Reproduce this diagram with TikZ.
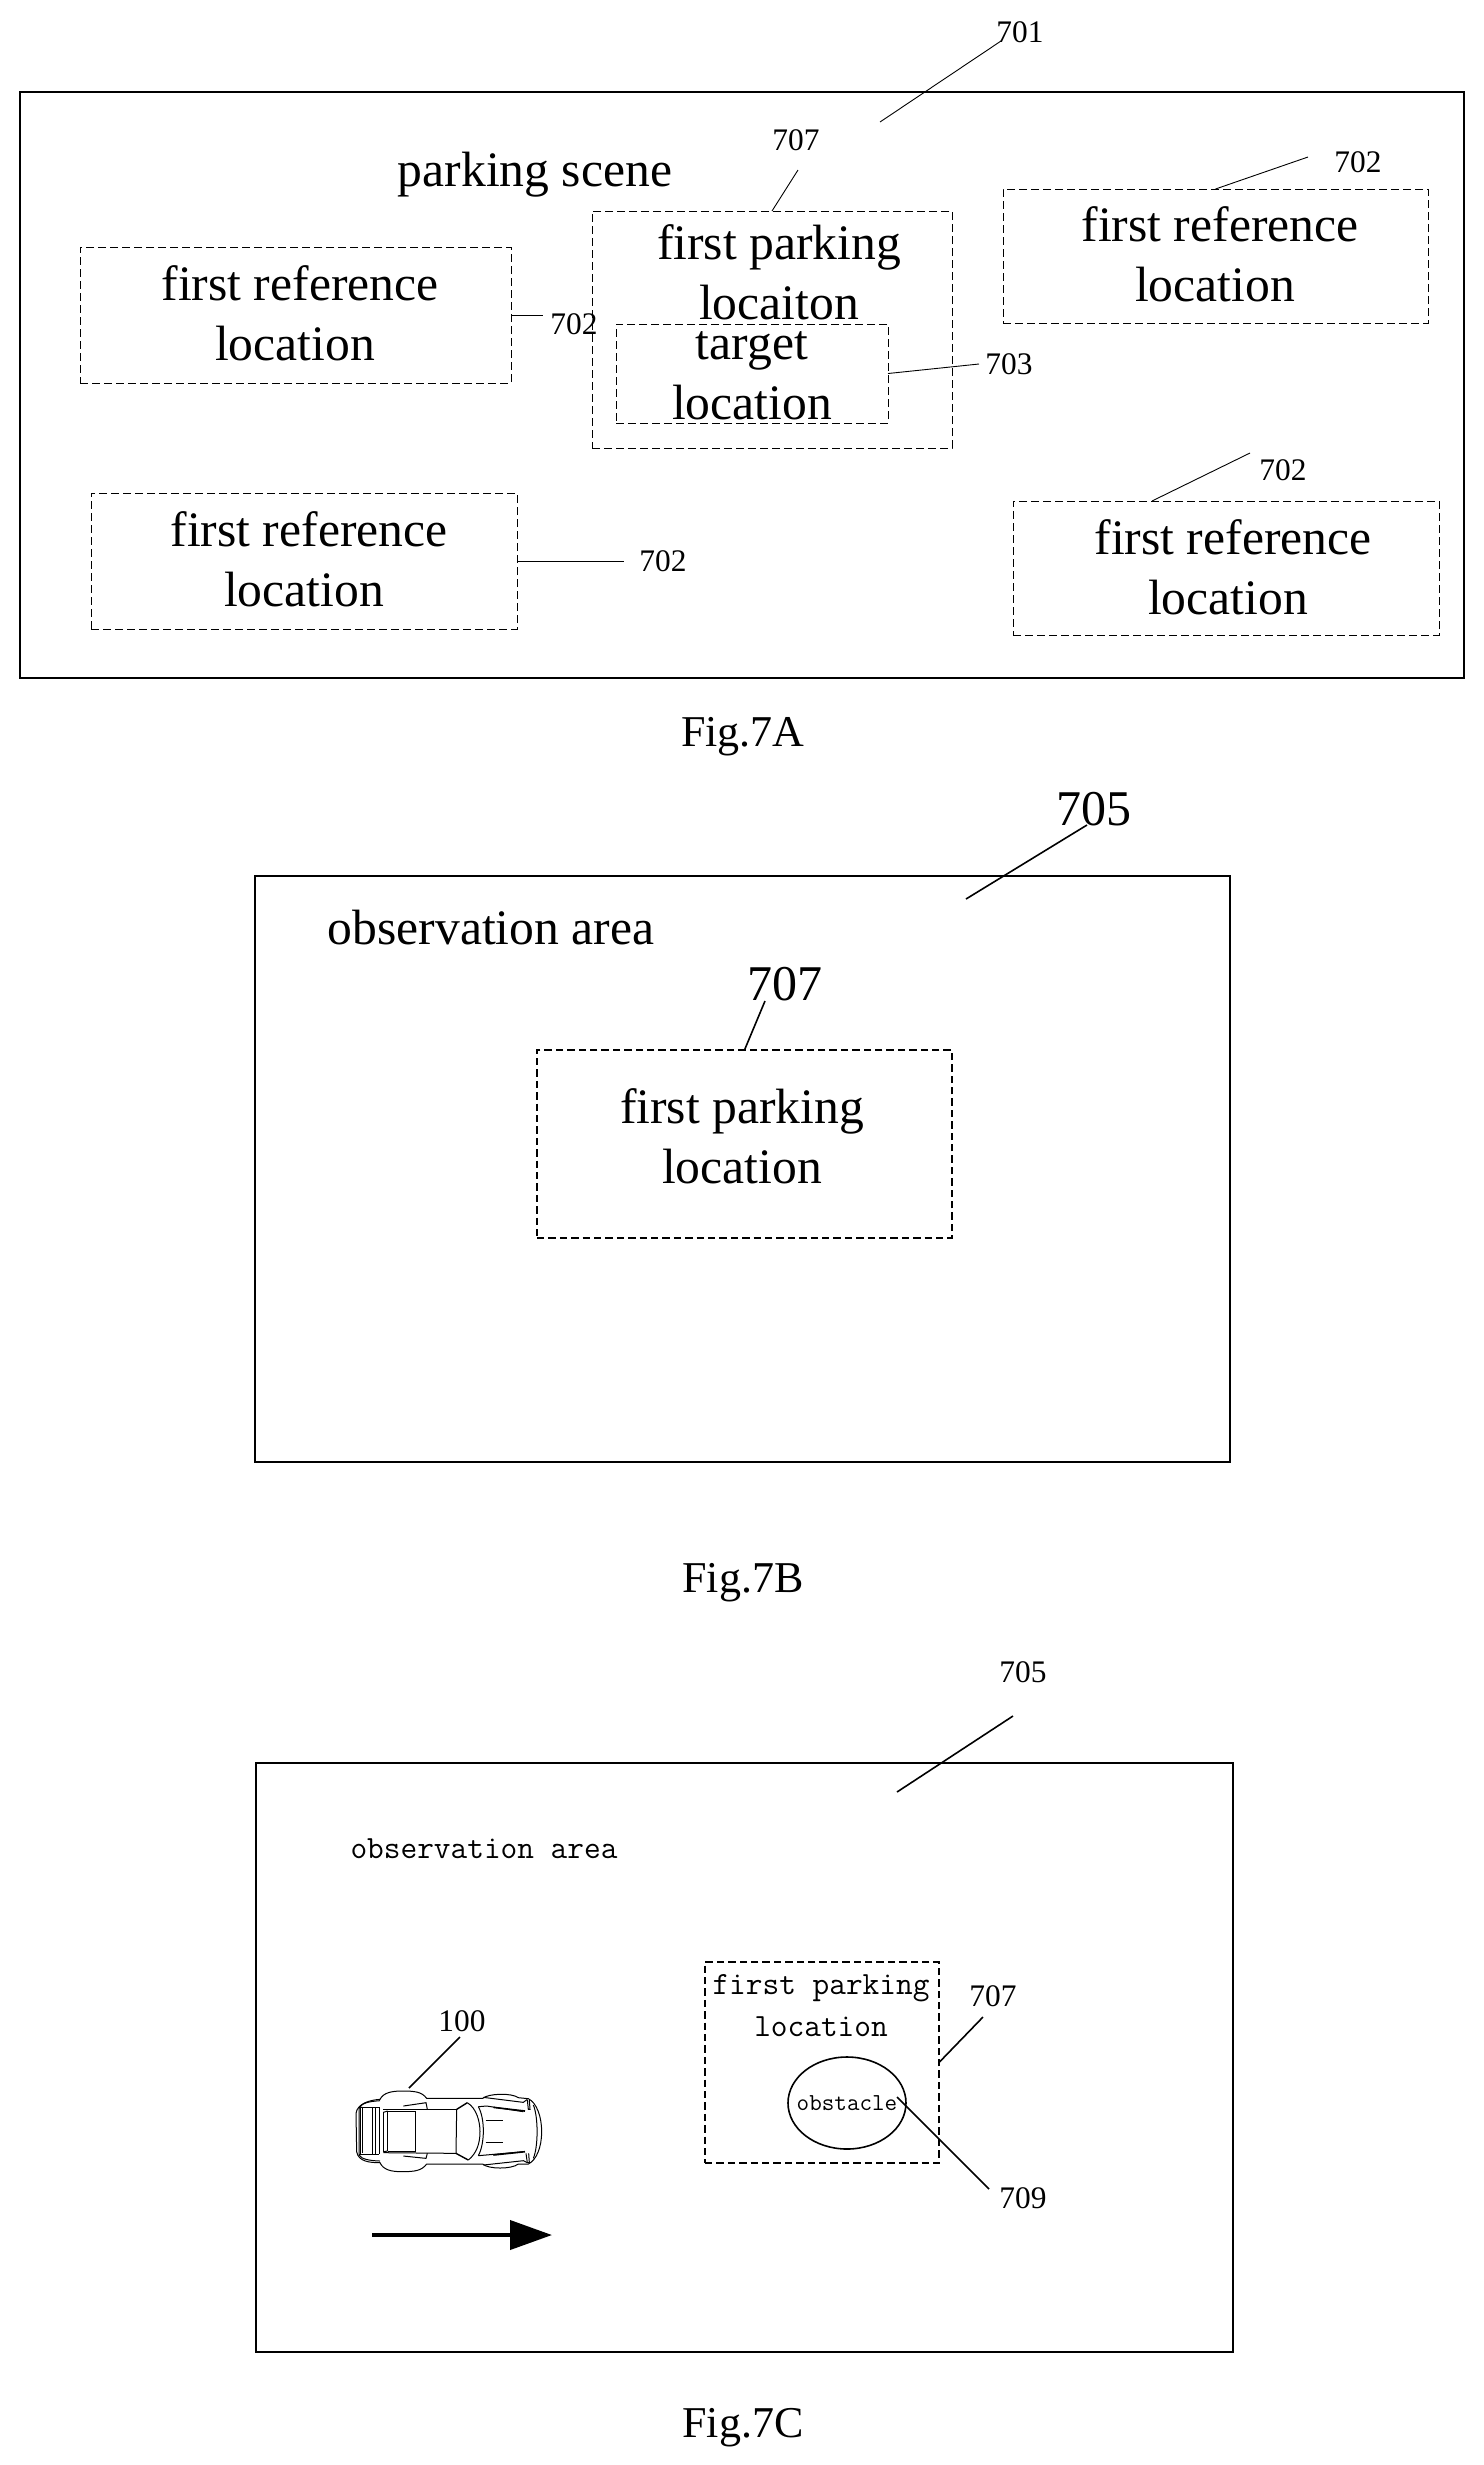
\documentclass[tikz,border=0pt]{standalone}
\usepackage{fontspec}
\setmainfont{Liberation Serif}
\usetikzlibrary{arrows.meta,shapes.geometric}
\tikzset{
  lblS/.style={inner sep=0pt,font=\fontsize{15.7}{18}\selectfont},
  lblL/.style={inner sep=0pt,font=\fontsize{25}{30}\selectfont},
  txt/.style={inner sep=0pt,align=center,font=\fontsize{24.8}{30}\selectfont},
  monotxt/.style={inner sep=0pt,align=center,font=\fontsize{16.2}{21}\selectfont\ttfamily},
  figcap/.style={inner sep=0pt,font=\fontsize{22}{26}\selectfont},
  panelA/.style={draw,line width=0.6pt,inner sep=0pt,outer sep=0pt},
  panelB/.style={draw,line width=0.85pt,inner sep=0pt,outer sep=0pt},
  panelC/.style={draw,line width=1pt,inner sep=0pt,outer sep=0pt},
  dashA/.style={draw,line width=0.5pt,dash pattern=on 4pt off 2pt,inner sep=0pt,outer sep=0pt},
  dashB/.style={draw,line width=0.8pt,dash pattern=on 3.7pt off 2pt,inner sep=0pt,outer sep=0pt},
  leadA/.style={line width=0.45pt},
  leadB/.style={line width=0.8pt},
  carline/.style={line width=0.5pt},
  cararrow/.style={line width=2pt,-{Triangle[length=21pt,width=14.5pt]}}
}
\newcommand{\bx}[6]{%
  \pgfmathsetmacro{\cxx}{(#3+#5)/2}\pgfmathsetmacro{\cyy}{(#4+#6)/2}%
  \pgfmathsetmacro{\wdd}{(#5-#3)*0.5}\pgfmathsetmacro{\htt}{(#6-#4)*0.5}%
  \node[#1,minimum width=\wdd pt,minimum height=\htt pt] (#2) at (\cxx,\cyy) {};}
\newcommand{\locshift}{\mbox{location\kern5pt}}
\begin{document}
\begin{tikzpicture}[x=0.5pt,y=-0.5pt]
\useasboundingbox (0,0) rectangle (1484,2465);
% ---------- Fig 7A
\bx{panelA}{pA}{20}{92}{1464}{678}
\bx{dashA}{rL}{80}{247}{511}{383}
\bx{dashA}{rTR}{1003}{189}{1428}{323}
\bx{dashA}{rBL}{91}{493}{517}{629}
\bx{dashA}{rBR}{1013}{501}{1439}{635}
\bx{dashA}{pk}{592}{211}{952}{448}
\bx{dashA}{tg}{616}{324}{888}{423}
\node[txt] (tscene) at (535,175) {parking scene};
\node[txt] (trL) at (300,313) {first reference\\\locshift};
\node[txt] (trTR) at (1220,254) {first reference\\\locshift};
\node[txt] (trBL) at (309,559) {first reference\\\locshift};
\node[txt] (trBR) at (1233,567) {first reference\\\locshift};
\node[txt] (tpk) at (779,272) {first parking\\locaiton};
\node[txt] (ttg) at (752,375.5) {target\\location};
\node[lblS] (n701) at (1020,32) {701};
\node[lblS] (n707a) at (796,140) {707};
\node[lblS] (n702a) at (574,324) {702};
\node[lblS] (n703) at (1009,364) {703};
\node[lblS] (n702b) at (1358,162) {702};
\node[lblS] (n702c) at (663,561) {702};
\node[lblS] (n702d) at (1283,470) {702};
\coordinate (e701a) at (1001,41);
\coordinate (s701) at (880,122);
\coordinate (e707a) at (798,170);
\coordinate (e702a) at (543,315);
\coordinate (e703) at (979,364);
\coordinate (e702b) at (1308,157);
\coordinate (e702c) at (624,561);
\coordinate (e702d) at (1250,453);
\coordinate (s702d) at (1152,501);
\draw[leadA] (s701) -- (e701a);
\draw[leadA] (pk.north) -- (e707a);
\draw[leadA] (rL.east) -- (e702a);
\draw[leadA] (tg.east) -- (e703);
\draw[leadA] (rTR.north) -- (e702b);
\draw[leadA] (rBL.east) -- (e702c);
\draw[leadA] (s702d) -- (e702d);
\node[figcap] (figA) at (743,737) {Fig.7A};
% ---------- Fig 7B
\bx{panelB}{pB}{255}{876}{1230}{1462}
\bx{dashB}{pkB}{537}{1050}{952}{1238}
\node[txt] (tobsB) at (491,928) {observation area};
\node[txt] (tpkB) at (742,1136) {first parking\\location};
\node[lblL] (n705b) at (1094,809) {705};
\node[lblL] (n707b) at (785,984) {707};
\coordinate (s705b) at (966,899);
\coordinate (e705b) at (1087,825);
\coordinate (e707b) at (765,1001);
\draw[leadB] (s705b) -- (e705b);
\draw[leadB] (pkB.north) -- (e707b);
\node[figcap] (figB) at (743,1583) {Fig.7B};
% ---------- Fig 7C
\bx{panelC}{pC}{256}{1763}{1233}{2352}
\bx{dashB}{pkC}{705}{1962}{939}{2163}
\node[monotxt] (tobsC) at (484,1849) {observation area};
\node[monotxt] (tpkC) at (821,2006) {first parking\\location};
\node[draw,ellipse,line width=0.8pt,minimum width=59pt,minimum height=46pt,inner sep=0pt] (obs) at (847,2103) {};
\node[inner sep=0pt,font=\fontsize{12.2}{14}\selectfont\ttfamily] (tobs) at (847,2103) {obstacle};
\node[lblS] (n705c) at (1023,1672) {705};
\node[lblS] (n100) at (462,2021) {100};
\node[lblS] (n707c) at (993,1996) {707};
\node[lblS] (n709) at (1023,2198) {709};
\coordinate (s705c) at (897,1792);
\coordinate (e705c) at (1013,1716);
\coordinate (e100) at (460,2037);
\coordinate (s100) at (409,2088);
\coordinate (e707c) at (983,2017);
\coordinate (s709) at (897,2097);
\coordinate (e709) at (989,2189);
\draw[leadB] (s705c) -- (e705c);
\draw[leadB] (s100) -- (e100);
\draw[leadB] (pkC.east) -- (e707c);
\draw[leadB] (s709) -- (e709);
\coordinate (arS) at (372,2235);
\coordinate (arE) at (552,2235);
\draw[cararrow] (arS) -- (arE);
\node[figcap] (figC) at (743,2428) {Fig.7C};
% car
\begin{scope}[shift={(320,1980)},x=0.16667pt,y=-0.16667pt,carline]
\draw (180,358) .. controls (190,338) and (215,333) .. (245,333) .. controls (285,333) and (305,335) .. (320,355)
 -- (488,355) .. controls (505,340) and (575,338) .. (595,353) -- (625,356)
 .. controls (650,368) and (665,410) .. (665,455) .. controls (665,500) and (650,540) .. (625,552)
 -- (595,552) .. controls (575,568) and (505,568) .. (488,552) -- (320,552)
 .. controls (305,572) and (285,575) .. (245,575) .. controls (215,575) and (190,570) .. (180,548)
 .. controls (150,548) and (115,545) .. (110,515) -- (108,400) .. controls (112,370) and (150,360) .. (180,358) -- cycle;
\draw (180,362) .. controls (150,364) and (125,368) .. (117,385) -- (117,525) .. controls (125,538) and (150,542) .. (180,543);
\draw (122,385) -- (122,522);
\draw (128,380) -- (128,520);
\draw (157,382) -- (157,522);
\draw (165,382) -- (165,522);
\draw (178,382) -- (178,522);
\draw (118,382) -- (178,382);
\draw (118,522) -- (178,522);
\draw (190,397) -- (190,515);
\draw[line width=0.8pt] (203,393) -- (203,513);
\draw (203,393) -- (287,393) -- (287,513) -- (203,513);
\draw (190,397) -- (203,393);
\draw (190,515) -- (203,513);
\draw (190,388) -- (410,388);
\draw (190,518) -- (410,520);
\draw[line width=0.7pt] (410,388) -- (442,368);
\draw[line width=0.7pt] (408,520) -- (445,540);
\draw (410,388) -- (408,520);
\draw (442,368) .. controls (470,385) and (480,425) .. (480,455) .. controls (480,490) and (470,520) .. (445,540);
\draw (475,380) .. controls (495,415) and (495,490) .. (475,527);
\draw (475,380) -- (500,378) -- (610,395);
\draw (475,527) -- (610,515);
\draw (497,420) -- (548,420);
\draw (497,487) -- (548,487);
\draw[line width=0.8pt] (520,382) -- (615,393);
\draw[line width=0.8pt] (520,525) -- (615,515);
\draw (490,352) -- (610,367) -- (622,358);
\draw (490,555) -- (610,542) -- (622,548);
\draw (622,360) -- (625,388) -- (630,388) -- (628,360);
\draw (618,520) -- (622,548) -- (628,548) -- (626,520);
\draw (640,375) .. controls (655,410) and (655,500) .. (640,535);
\draw (250,378) -- (318,368) -- (322,388);
\draw (250,528) -- (318,535) -- (322,520);
\end{scope}
\end{tikzpicture}
\end{document}
